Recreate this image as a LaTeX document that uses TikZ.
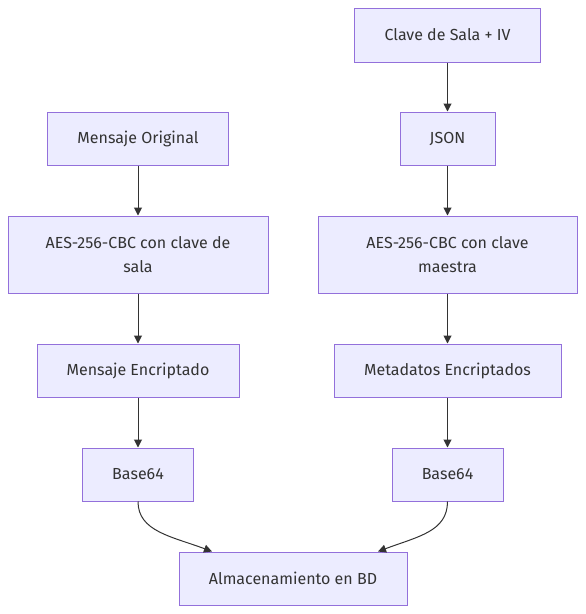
\documentclass[tikz,border=0pt]{standalone}
\usepackage{fontspec}
\setmainfont{Fira Sans}
\usetikzlibrary{arrows.meta}
\definecolor{nodefill}{HTML}{ECECFF}
\definecolor{nodedraw}{HTML}{9370DB}
\definecolor{txt}{HTML}{333333}
\begin{document}
\begin{tikzpicture}[x=1pt,y=-1pt,
  box/.style={draw=nodedraw,fill=nodefill,line width=1pt,inner sep=0pt,
    text=txt,font=\fontsize{16}{24}\selectfont,align=center},
  arr/.style={draw=txt,line width=1pt,-{Triangle[length=8pt,width=8pt]}}]
\useasboundingbox (0,0) rectangle (586,614);
\node[box,minimum width=186pt,minimum height=54pt] (clave) at (447.5,35) {Clave de Sala + IV};
\node[box,minimum width=181pt,minimum height=53pt] (msg) at (138,138.5) {Mensaje Original};
\node[box,minimum width=95pt,minimum height=53pt] (json) at (447.5,138.5) {JSON};
\node[box,minimum width=260pt,minimum height=77pt] (aes1) at (138,254.5) {AES-256-CBC con clave de\\sala};
\node[box,minimum width=259pt,minimum height=77pt] (aes2) at (447.5,254.5) {AES-256-CBC con clave\\maestra};
\node[box,minimum width=202pt,minimum height=53pt] (enc) at (138,370.5) {Mensaje Encriptado};
\node[box,minimum width=227pt,minimum height=53pt] (meta) at (447.5,370.5) {Metadatos Encriptados};
\node[box,minimum width=111pt,minimum height=53pt] (b1) at (138,474.5) {Base64};
\node[box,minimum width=111pt,minimum height=53pt] (b2) at (447.5,474.5) {Base64};
\node[box,minimum width=228pt,minimum height=53pt] (bd) at (293,578.5) {Almacenamiento en BD};
\draw[arr] (clave) -- (json);
\draw[arr] (msg) -- (aes1);
\draw[arr] (json) -- (aes2);
\draw[arr] (aes1) -- (enc);
\draw[arr] (aes2) -- (meta);
\draw[arr] (enc) -- (b1);
\draw[arr] (meta) -- (b2);
\draw[arr] (b1.south) .. controls ++(0,30) and ++(-40,-15) .. ([xshift=-81pt]bd.north);
\draw[arr] (b2.south) .. controls ++(0,30) and ++(40,-15) .. ([xshift=85pt]bd.north);
\end{tikzpicture}
\end{document}
